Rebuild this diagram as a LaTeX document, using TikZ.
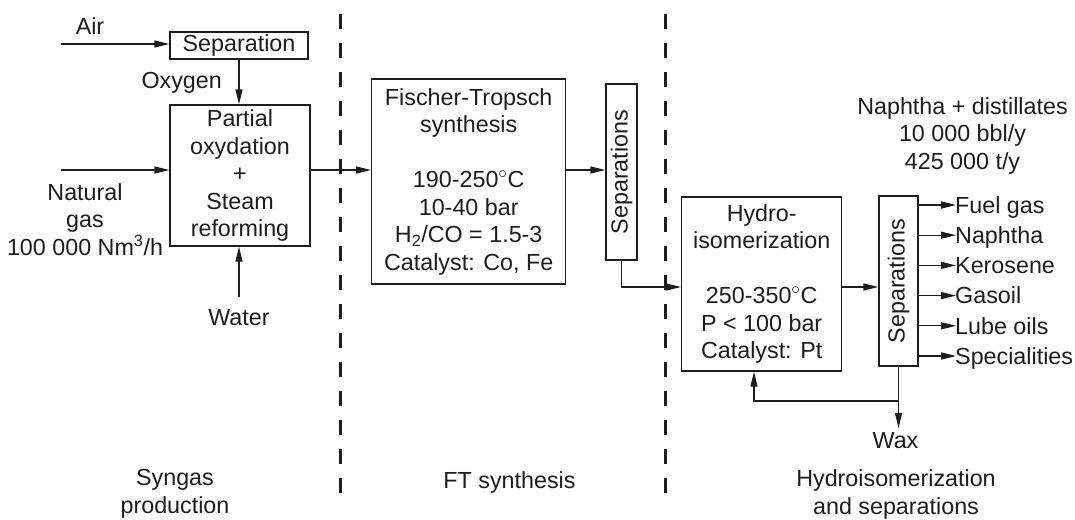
\documentclass[tikz,border=0pt]{standalone}
\usepackage{fontspec}
\setmainfont{Liberation Sans}
\usepackage{graphicx}
\usetikzlibrary{arrows.meta}
\definecolor{ink}{RGB}{30,28,28}
\begin{document}
\begin{tikzpicture}[x=1pt,y=-1pt,
  txt/.style={font=\fontsize{23.3}{27.5}\selectfont, text=ink, inner sep=0pt, align=center},
  box/.style={txt, draw=ink, line width=1.3pt},
  arr/.style={draw=ink, line width=1.3pt, -{Triangle[length=15pt,width=7pt]}},
  divider/.style={draw=ink, line width=3pt, dash pattern=on 15pt off 14pt}]
\useasboundingbox (0,0) rectangle (1075,519);

% level coordinates
\coordinate (y170) at (0,170);
\coordinate (y287) at (0,287);

% boxes
\node[box, minimum width=138pt, minimum height=27pt] (sep0) at (239,45.5) {Separation};
\node[box, minimum width=140pt, minimum height=141pt] (pox) at (240,175.5) {Partial\\oxydation\\+\\Steam\\reforming};
\node[box, minimum width=194pt, minimum height=205pt] (ft) at (468.7,181.5) {Fischer-Tropsch\\synthesis\\[27.5pt]190-250$^{\circ}$C\\10-40 bar\\H\textsubscript{2}/CO = 1.5-3\\Catalyst: Co, Fe};
\node[box, minimum width=31pt, minimum height=176pt] (sep1) at (621.5,172) {\rotatebox{90}{Separations}};
\node[box, minimum width=160pt, minimum height=174pt] (hydro) at (761.7,284) {Hydro-\\isomerization\\[27.5pt]250-350$^{\circ}$C\\P < 100 bar\\Catalyst: Pt};
\node[box, minimum width=39pt, minimum height=170pt] (sep2) at (898.5,281) {\rotatebox{90}{Separations}};

% labels
\node[txt, anchor=base] (air) at (90,35) {Air};
\node[txt, anchor=base] (oxy) at (181.7,88) {Oxygen};
\node[txt] (ng) at (85,219.3) {Natural\\gas\\100 000 Nm\textsuperscript{3}/h};
\node[txt, anchor=base] (water) at (239,325) {Water};
\node[txt] (prod) at (962.5,135.6) {Naphtha + distillates\\10 000 bbl/y\\425 000 t/y};
\node[txt, anchor=base] (wax) at (895.5,448) {Wax};
\node[txt] (sec1) at (175,494) {Syngas\\production};
\node[txt, anchor=base] (sec2) at (509.5,488) {FT synthesis};
\node[txt] (sec3) at (896,494.3) {Hydroisomerization\\and separations};

% free ends
\coordinate (airin) at (61,44);
\coordinate (ngin) at (61,170);
\coordinate (waterin) at (239,296.5);
\coordinate (waxend) at (898.5,428);
\coordinate (rc) at (754,401);

% connectors
\draw[arr] (airin) -- (airin -| sep0.west);
\draw[arr] (sep0.south) -- (sep0.south |- pox.north);
\draw[arr] (ngin) -- (ngin -| pox.west);
\draw[arr] (waterin) -- (waterin |- pox.south);
\draw[arr] (pox.east |- y170) -- (ft.west |- y170);
\draw[arr] (ft.east |- y170) -- (sep1.west |- y170);
\draw[arr] (sep1.south) |- (hydro.west |- y287);
\draw[arr] (hydro.east |- y287) -- (sep2.west |- y287);
\draw[arr] (sep2.south) -- (waxend);
\draw[arr] (sep2.south |- rc) -- (rc) -- (rc |- hydro.south);

\foreach \i/\yy/\t in {1/205/Fuel gas, 2/235.2/Naphtha, 3/265.4/Kerosene, 4/295.6/Gasoil, 5/325.8/Lube oils, 6/356/Specialities}{
  \coordinate (e\i) at (956,\yy);
  \node[txt, anchor=base west] (o\i) at (955,\yy+8.3) {\t};
  \draw[arr] (sep2.east |- e\i) -- (e\i);
}

% dividers
\coordinate (d1t) at (340.7,14);
\coordinate (d1b) at (340.7,493);
\coordinate (d2t) at (665,14);
\coordinate (d2b) at (665,493);
\draw[divider] (d1t) -- (d1b);
\draw[divider] (d2t) -- (d2b);
\end{tikzpicture}
\end{document}
